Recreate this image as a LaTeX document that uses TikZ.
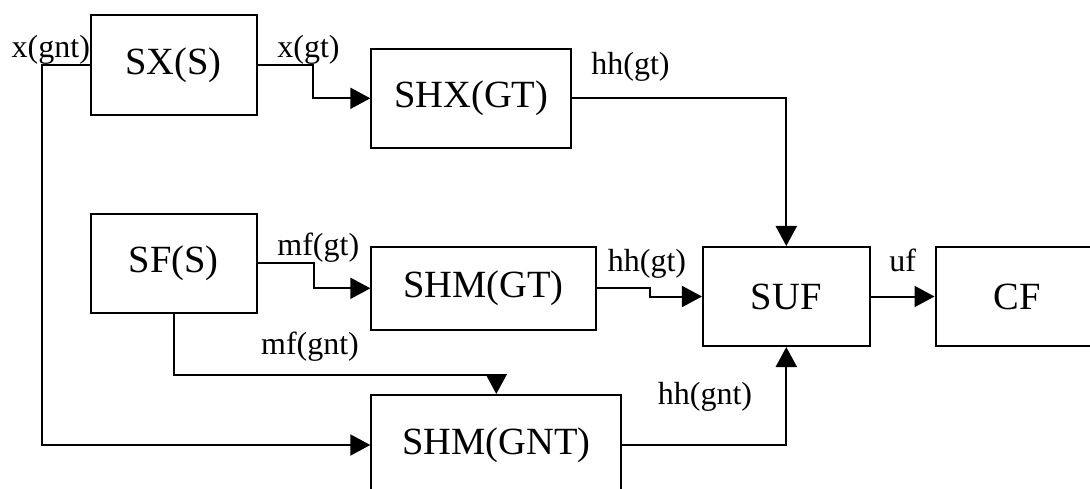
\documentclass[tikz,border=0pt]{standalone}
\usepackage{fontspec}
\setmainfont{Liberation Serif}
\usetikzlibrary{arrows.meta}
\begin{document}
\begin{tikzpicture}[x=1pt,y=-1pt,
  blk/.style={draw, line width=2pt, inner sep=0pt, font=\fontsize{38.5}{40}\selectfont},
  lbl/.style={inner sep=0pt, anchor=base, font=\fontsize{32}{34}\selectfont},
  arr/.style={line width=2pt, -{Triangle[length=20pt,width=21pt]}}]
\clip (0,0) rectangle (1090,489);
\fill[white] (0,0) rectangle (1090,489);
% blocks
\node[blk, minimum width=166pt, minimum height=100pt] (sx) at (173.7,65) {SX(S)};
\node[blk, minimum width=200pt, minimum height=98.7pt] (shx) at (471.3,98.3) {SHX(GT)};
\node[blk, minimum width=166pt, minimum height=99pt] (sf) at (173.7,263.5) {SF(S)};
\node[blk, minimum width=224.3pt, minimum height=83.3pt] (shmgt) at (483.5,288.3) {SHM(GT)};
\node[blk, minimum width=166.7pt, minimum height=99pt] (suf) at (786.3,296.5) {SUF};
\node[blk, minimum width=164pt, minimum height=99pt] (cf) at (1017.5,296.5) {CF};
\node[blk, minimum width=250pt, minimum height=100pt] (shmgnt) at (496.3,445) {SHM(GNT)};
% bend points
\coordinate (c1) at (41.7,65);
\coordinate (c2) at (313,65);
\coordinate (c4) at (314,263.5);
\coordinate (c5) at (649.5,288.3);
\coordinate (c7) at (496.3,375);
% connectors
\draw[arr] (sx.west) -- (c1) |- (shmgnt.west);
\draw[arr] (sx.east) -- (c2) |- (shx.west);
\draw[arr] (shx.east) -| (suf.north);
\draw[arr] (sf.east) -- (c4) |- (shmgt.west);
\draw[arr] (shmgt.east) -- (c5) |- (suf.west);
\draw[arr] (suf.east) -- (cf.west);
\draw[arr] (sf.south) |- (c7) -- (shmgnt.north);
\draw[arr] (shmgnt.east) -| (suf.south);
% labels
\node[lbl] (lxgnt) at (50.8,58) {x(gnt)};
\node[lbl] (lxgt) at (308.5,58) {x(gt)};
\node[lbl] (lhhgt) at (630.5,75) {hh(gt)};
\node[lbl] (lmfgt) at (318.3,255.7) {mf(gt)};
\node[lbl] (lmfgnt) at (310,354.5) {mf(gnt)};
\node[lbl] (lhhgt2) at (647,272) {hh(gt)};
\node[lbl] (luf) at (902.8,272) {uf};
\node[lbl] (lhhgnt) at (705,404.5) {hh(gnt)};
\end{tikzpicture}
\end{document}
